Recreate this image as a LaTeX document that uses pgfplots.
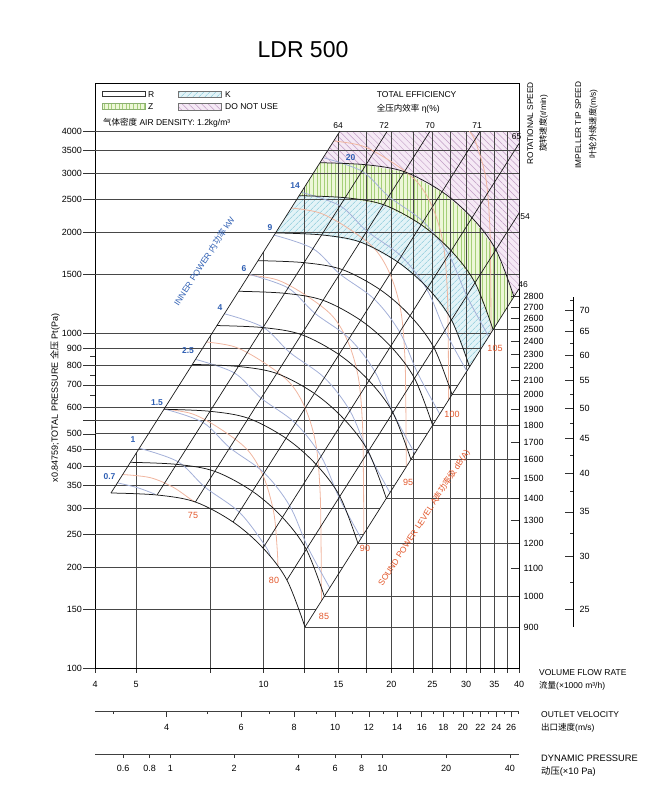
\documentclass[border=0pt]{standalone}
\usepackage{pgfplots}
\pgfplotsset{compat=1.18}
\usetikzlibrary{patterns.meta}
\usepackage{fontspec}
\setmainfont{Liberation Sans}
\newfontfamily\cjk{Noto Sans CJK SC}
\definecolor{Zbg}{HTML}{EDF7D8}
\definecolor{Zhatch}{HTML}{A5CF78}
\definecolor{Zborder}{HTML}{8BB070}
\definecolor{Kbg}{HTML}{E3F3F7}
\definecolor{Khatch}{HTML}{7FC4D6}
\definecolor{Pbg}{HTML}{F5E9F5}
\definecolor{Phatch}{HTML}{C09CC4}
\definecolor{pwrc}{HTML}{A3B0D8}
\definecolor{sndc}{HTML}{F0B59F}
\definecolor{pwrlab}{HTML}{2F5FB3}
\definecolor{sndlab}{HTML}{E2572B}
\pgfplotsset{
 spd/.style={black!90, line width=0.75pt, smooth, tension=0.55, mark=none},
 dia/.style={black!90, line width=0.7pt, mark=none},
 grd/.style={black!72, line width=0.7pt, mark=none},
 pwr/.style={pwrc, line width=0.8pt, smooth, tension=0.55, mark=none},
 snd/.style={sndc, line width=0.8pt, smooth, tension=0.55, mark=none},
}
\newcommand{\fs}[1]{\fontsize{#1}{#1}\selectfont}
\begin{document}
\begin{tikzpicture}
\path[use as bounding box] (0pt,0pt) rectangle (661pt,-800pt);
\begin{axis}[at={(95pt,-668pt)}, anchor=south west, scale only axis,
 width=424pt, height=585pt, xmode=log, ymode=log,
 xmin=4, xmax=40, ymin=100, ymax=5575,
 axis line style={black, line width=0.8pt},
 xtick={4,5,7.5,10,12.5,15,17.5,20,22.5,25,27.5,30,32.5,35,37.5,40},
 xticklabels={4,5,,10,,15,,20,,25,,30,,35,,40},
 ytick={100,150,200,250,300,350,400,450,500,550,600,700,800,900,1000,1500,2000,2500,3000,3500,4000},
 yticklabels={100,150,200,250,300,350,400,450,500,,600,700,800,900,1000,1500,2000,2500,3000,3500,4000},
 minor ytick={650,750,850},
 xtick pos=bottom, ytick pos=left, tick align=outside,
 major tick length=12pt, minor tick length=5pt,
 xtick style={/pgfplots/major tick length=5pt},
 tick style={black!80, line width=0.65pt},
 xticklabel style={font=\fs{9}, inner sep=1pt},
 yticklabel style={font=\fs{9}, inner sep=1pt},
]
% zone fills: K, Z, DO NOT USE
\addplot[fill=Kbg, draw=none] coordinates {(10.665,1989.8) (13.696,1962.3) (16.867,1870.3) (20.692,1630.1) (24.349,1363.0) (27.72,1094.1) (30.58,792.3) (34.75,1023.1) (31.50,1412.8) (27.669,1760.0) (23.514,2104.9) (19.167,2415.1) (15.564,2533.9) (12.119,2569.4)} -- cycle;
\addplot[draw=none, pattern={Lines[angle=45,distance=4pt,line width=0.5pt]}, pattern color=Khatch] coordinates {(10.665,1989.8) (13.696,1962.3) (16.867,1870.3) (20.692,1630.1) (24.349,1363.0) (27.72,1094.1) (30.58,792.3) (34.75,1023.1) (31.50,1412.8) (27.669,1760.0) (23.514,2104.9) (19.167,2415.1) (15.564,2533.9) (12.119,2569.4)} -- cycle;
\addplot[fill=Zbg, draw=none] coordinates {(12.119,2569.4) (15.564,2533.9) (19.167,2415.1) (23.514,2104.9) (27.669,1760.0) (31.50,1412.8) (34.75,1023.1) (38.92,1283.4) (35.28,1772.2) (30.990,2207.8) (26.336,2640.4) (21.467,3029.5) (17.432,3178.6) (13.574,3223.1)} -- cycle;
\addplot[draw=none, pattern={Lines[angle=90,distance=3.6pt,line width=0.55pt]}, pattern color=Zhatch] coordinates {(12.119,2569.4) (15.564,2533.9) (19.167,2415.1) (23.514,2104.9) (27.669,1760.0) (31.50,1412.8) (34.75,1023.1) (38.92,1283.4) (35.28,1772.2) (30.990,2207.8) (26.336,2640.4) (21.467,3029.5) (17.432,3178.6) (13.574,3223.1)} -- cycle;
\addplot[fill=Pbg, draw=none] coordinates {(13.574,3223.1) (17.432,3178.6) (21.467,3029.5) (26.336,2640.4) (30.990,2207.8) (35.28,1772.2) (38.92,1283.4) (40,1355.6) (40,4000) (15.12,4000)} -- cycle;
\addplot[draw=none, pattern={Lines[angle=-45,distance=4.6pt,line width=0.5pt]}, pattern color=Phatch] coordinates {(13.574,3223.1) (17.432,3178.6) (21.467,3029.5) (26.336,2640.4) (30.990,2207.8) (35.28,1772.2) (38.92,1283.4) (40,1355.6) (40,4000) (15.12,4000)} -- cycle;
% horizontal pressure grid lines
\addplot[grd] coordinates {(4,150) (13.306,150)};
\addplot[grd] coordinates {(4,200) (15.364,200)};
\addplot[grd] coordinates {(4,250) (17.177,250)};
\addplot[grd] coordinates {(4,300) (18.817,300)};
\addplot[grd] coordinates {(4,350) (20.325,350)};
\addplot[grd] coordinates {(4,400) (21.728,400)};
\addplot[grd] coordinates {(4,450) (23.046,450)};
\addplot[grd] coordinates {(4,500) (24.293,500)};
\addplot[grd] coordinates {(4,550) (25.478,550)};
\addplot[grd] coordinates {(4,600) (26.611,600)};
\addplot[grd] coordinates {(4,700) (28.743,700)};
\addplot[grd] coordinates {(4,800) (30.728,800)};
\addplot[grd] coordinates {(4,900) (32.592,900)};
\addplot[grd] coordinates {(4,1000) (34.355,1000)};
\addplot[grd] coordinates {(4,1500) (40,1500)};
\addplot[grd] coordinates {(4,2000) (40,2000)};
\addplot[grd] coordinates {(4,2500) (40,2500)};
\addplot[grd] coordinates {(4,3000) (40,3000)};
\addplot[grd] coordinates {(4,3500) (40,3500)};
\addplot[grd] coordinates {(4,4000) (40,4000)};
% vertical flow grid lines
\addplot[grd] coordinates {(5,100) (5,437.3)};
\addplot[grd] coordinates {(7.5,100) (7.5,984.0)};
\addplot[grd] coordinates {(10,100) (10,1749.3)};
\addplot[grd] coordinates {(12.5,100) (12.5,2733.3)};
\addplot[grd] coordinates {(15,100) (15,3935.9)};
\addplot[grd] coordinates {(17.5,100) (17.5,4000)};
\addplot[grd] coordinates {(20,100) (20,4000)};
\addplot[grd] coordinates {(22.5,100) (22.5,4000)};
\addplot[grd] coordinates {(25,100) (25,4000)};
\addplot[grd] coordinates {(27.5,100) (27.5,4000)};
\addplot[grd] coordinates {(30,100) (30,4000)};
\addplot[grd] coordinates {(32.5,100) (32.5,4000)};
\addplot[grd] coordinates {(35,100) (35,4000)};
\addplot[grd] coordinates {(37.5,100) (37.5,4000)};
% rotational speed lines to the right scale
\addplot[grd] coordinates {(12.51,132.6) (40,132.6)};
\addplot[grd] coordinates {(13.90,163.7) (40,163.7)};
\addplot[grd] coordinates {(16.68,235.7) (40,235.7)};
\addplot[grd] coordinates {(19.46,320.9) (40,320.9)};
\addplot[grd] coordinates {(22.24,419.1) (40,419.1)};
\addplot[grd] coordinates {(25.02,530.4) (40,530.4)};
\addplot[grd] coordinates {(27.80,654.8) (40,654.8)};
\addplot[grd] coordinates {(34.75,1023.1) (40,1023.1)};
\addplot[grd] coordinates {(38.92,1283.4) (40,1283.4)};
% sound power level curves dB(A)
\addplot[snd] coordinates {(4.65,378) (5.4,370) (6.1,347) (6.7,320) (6.9,313)};
\addplot[snd] coordinates {(5.822,593.1) (6.797,573.2) (7.912,516.8) (9.162,447.4) (9.995,371.7) (10.553,292.3) (10.75,230) (10.80,203)};
\addplot[snd] coordinates {(7.33,940) (8.557,908.5) (9.961,819.1) (11.534,709.1) (12.583,589.1) (13.285,463.2) (13.576,339.9) (13.650,241.0) (13.68,158.6)};
\addplot[snd] coordinates {(9.228,1489.8) (10.773,1439.9) (12.540,1298.2) (14.520,1123.8) (15.841,933.7) (16.725,734.1) (17.091,538.7) (17.184,382.0) (17.222,251.4)};
\addplot[snd] coordinates {(11.617,2361.2) (13.562,2282.1) (15.787,2057.5) (18.280,1781.1) (19.943,1479.8) (21.056,1163.5) (21.517,853.8) (21.634,605.4) (21.681,398.4)};
\addplot[snd] coordinates {(14.625,3742.3) (17.074,3616.9) (19.875,3260.9) (23.013,2822.8) (25.107,2345.3) (26.508,1844.0) (27.088,1353.2) (27.236,959.5) (27.295,631.4)};
\addplot[snd] coordinates {(30.54,4000) (31.608,3717.1) (33.371,2922.5) (34.102,2144.7) (34.288,1520.7) (34.362,1000.7)};
% inner power curves kW
\addplot[pwr] coordinates {(4.518,357.1) (5.05,345) (5.55,330)};
\addplot[pwr] coordinates {(5.088,452.9) (6.281,412.6) (7.264,346.9) (8.756,291.9) (10.059,232.6) (10.37,215)};
\addplot[pwr] coordinates {(5.824,593.4) (7.189,540.7) (8.315,454.6) (10.023,382.5) (11.515,304.8) (12.700,229.6) (14.311,173.5)};
\addplot[pwr] coordinates {(6.905,834.1) (8.524,760.1) (9.859,639.0) (11.884,537.7) (13.653,428.5) (15.057,322.8) (16.969,244.0)};
\addplot[pwr] coordinates {(8.077,1141.2) (9.970,1039.8) (11.531,874.1) (13.900,735.5) (15.968,586.2) (17.611,441.6) (19.847,333.8)};
\addplot[pwr] coordinates {(9.246,1495.4) (11.413,1362.5) (13.199,1145.3) (15.911,963.8) (18.278,768.1) (20.159,578.6) (22.719,437.3)};
\addplot[pwr] coordinates {(10.584,1959.5) (13.065,1785.5) (15.110,1500.9) (18.214,1263.0) (20.924,1006.5) (23.077,758.3) (26.007,573.1)};
\addplot[pwr] coordinates {(12.263,2630.5) (15.137,2396.9) (17.507,2014.9) (21.103,1695.5) (24.244,1351.2) (26.737,1017.9) (30.133,769.3)};
\addplot[pwr] coordinates {(13.811,3336.8) (17.048,3040.3) (19.717,2555.7) (23.768,2150.7) (27.305,1714.0) (30.113,1291.2) (33.938,975.9)};
% efficiency lines (P ~ Q^2)
\addplot[dia] coordinates {(4.363,333.0) (15.12,4000)};
\addplot[dia] coordinates {(5.603,328.4) (19.555,4000)};
\addplot[dia] coordinates {(6.90,313.0) (24.666,4000)};
\addplot[dia] coordinates {(8.465,272.8) (32.414,4000)};
\addplot[dia] coordinates {(9.961,228.1) (40,3678.2)};
\addplot[dia] coordinates {(11.34,183.1) (40,2278.1)};
\addplot[dia] coordinates {(12.51,132.6) (40,1355.6)};
% fan curves at constant speed (r/min)
\addplot[spd] coordinates {(4.363,333.0) (5.603,328.4) (6.90,313.0) (8.465,272.8) (9.961,228.1) (11.34,183.1) (12.51,132.6)};
\addplot[spd] coordinates {(4.848,411.1) (6.226,405.4) (7.667,386.4) (9.406,336.8) (11.068,281.6) (12.60,226.0) (13.90,163.7)};
\addplot[spd] coordinates {(5.817,592.0) (7.471,583.8) (9.200,556.4) (11.287,485.0) (13.281,405.5) (15.12,325.5) (16.68,235.7)};
\addplot[spd] coordinates {(6.787,805.8) (8.716,794.6) (10.733,757.4) (13.168,660.1) (15.495,551.9) (17.640,443.1) (19.460,320.9)};
\addplot[spd] coordinates {(7.756,1052.4) (9.961,1037.9) (12.267,989.2) (15.049,862.2) (17.708,720.9) (20.16,578.7) (22.24,419.1)};
\addplot[spd] coordinates {(8.726,1332.0) (11.206,1313.6) (13.80,1252.0) (16.93,1091.2) (19.922,912.4) (22.68,732.4) (25.02,530.4)};
\addplot[spd] coordinates {(9.696,1644.4) (12.451,1621.7) (15.333,1545.7) (18.811,1347.2) (22.136,1126.4) (25.20,904.2) (27.80,654.8)};
\addplot[spd] coordinates {(10.665,1989.8) (13.696,1962.3) (16.867,1870.3) (20.692,1630.1) (24.349,1363.0) (27.72,1094.1) (30.58,792.3)};
\addplot[spd] coordinates {(12.119,2569.4) (15.564,2533.9) (19.167,2415.1) (23.514,2104.9) (27.669,1760.0) (31.50,1412.8) (34.75,1023.1)};
\addplot[spd] coordinates {(13.574,3223.1) (17.432,3178.6) (21.467,3029.5) (26.336,2640.4) (30.990,2207.8) (35.28,1772.2) (38.92,1283.4)};
\end{axis}
% rotational speed scale
\begin{axis}[at={(519pt,-627pt)}, anchor=south east, scale only axis,
 width=20pt, height=330.3pt, ymode=log, ymin=900, ymax=2800, xmin=0, xmax=1,
 hide x axis, axis y line=right, axis line style={-, black, line width=0.8pt},
 tick align=inside, major tick length=8pt, tick style={black!80, line width=0.65pt},
 ytick={900,1000,1100,1200,1300,1400,1500,1600,1700,1800,1900,2000,2100,2200,2300,2400,2500,2600,2700,2800},
 yticklabels={900,1000,1100,1200,1300,1400,1500,1600,1700,1800,1900,2000,2100,2200,2300,2400,2500,2600,2700,2800},
 yticklabel style={font=\fs{9}, inner sep=0.5pt, xshift=4pt}]
\addplot[draw=none] coordinates {(0.5,1000)};
\end{axis}
% impeller tip speed scale
\begin{axis}[at={(573pt,-627pt)}, anchor=south east, scale only axis,
 width=20pt, height=330.3pt, ymode=log, ymin=23.562, ymax=73.304, xmin=0, xmax=1,
 hide x axis, axis y line=right, axis line style={-, black, line width=0.7pt},
 tick align=inside, major tick length=7.7pt, minor tick length=3.5pt, tick style={black!80, line width=0.6pt},
 ytick={25,30,35,40,45,50,55,60,65,70},
 yticklabels={25,30,35,40,45,50,55,60,65,70},
 minor ytick={27.5,32.5,37.5,42.5,47.5,52.5,57.5,62.5,67.5,72.5},
 yticklabel style={font=\fs{9}, inner sep=0.5pt, xshift=6pt}]
\addplot[draw=none] coordinates {(0.5,30)};
\end{axis}
% outlet velocity scale
\begin{axis}[at={(95pt,-711pt)}, anchor=south west, scale only axis,
 width=424pt, height=10pt, xmode=log, xmin=2.713, xmax=27.13, ymin=0, ymax=1,
 hide y axis, axis x line=bottom, axis line style={-, black!75, line width=0.7pt},
 tick align=outside, major tick length=6pt, minor tick length=3pt, tick style={black!80, line width=0.6pt},
 xtick={4,6,8,10,12,14,16,18,20,22,24,26},
 xticklabels={4,6,8,10,12,14,16,18,20,22,24,26},
 minor xtick={3,5,7,9,11,13,15,17,19,21,23,25,27},
 xticklabel style={font=\fs{9}, inner sep=1pt, yshift=-6.5pt}]
\addplot[draw=none] coordinates {(5,0.5)};
\end{axis}
% dynamic pressure scale
\begin{axis}[at={(95pt,-754pt)}, anchor=south west, scale only axis,
 width=424pt, height=10pt, xmode=log, xmin=0.4416, xmax=44.16, ymin=0, ymax=1,
 hide y axis, axis x line=bottom, axis line style={-, black!75, line width=0.7pt},
 tick align=outside, major tick length=4pt, tick style={black!80, line width=0.6pt},
 xtick={0.6,0.8,1,2,4,6,8,10,20,40},
 xticklabels={0.6,0.8,1,2,4,6,8,10,20,40},
 xticklabel style={font=\fs{9}, inner sep=1pt, yshift=-6.5pt}]
\addplot[draw=none] coordinates {(5,0.5)};
\end{axis}
% title
\node[font=\fs{23}] at (303pt,-50pt) {LDR 500};
% legend swatches
\draw[black!80, line width=0.5pt, fill=white] (102.7pt,-91.7pt) rectangle (145pt,-96.7pt);
\fill[Zbg] (102.7pt,-103.3pt) rectangle (145pt,-109.3pt);
\fill[pattern={Lines[angle=90,distance=3.6pt,line width=0.55pt]}, pattern color=Zhatch] (102.7pt,-103.3pt) rectangle (145pt,-109.3pt);
\draw[Zborder, line width=0.5pt] (102.7pt,-103.3pt) rectangle (145pt,-109.3pt);
\fill[Kbg] (178pt,-91.7pt) rectangle (221.7pt,-97.3pt);
\fill[pattern={Lines[angle=45,distance=4pt,line width=0.5pt]}, pattern color=Khatch] (178pt,-91.7pt) rectangle (221.7pt,-97.3pt);
\draw[black!55, line width=0.5pt] (178pt,-91.7pt) rectangle (221.7pt,-97.3pt);
\fill[Pbg] (178pt,-103.3pt) rectangle (221.7pt,-110pt);
\fill[pattern={Lines[angle=-45,distance=4.6pt,line width=0.5pt]}, pattern color=Phatch] (178pt,-103.3pt) rectangle (221.7pt,-110pt);
\draw[black!55, line width=0.5pt] (178pt,-103.3pt) rectangle (221.7pt,-110pt);
\node[anchor=west, font=\fs{8.5}, inner sep=0pt] at (148pt,-94.5pt) {R};
\node[anchor=west, font=\fs{8.5}, inner sep=0pt] at (148pt,-106.5pt) {Z};
\node[anchor=west, font=\fs{8.5}, inner sep=0pt] at (225pt,-94.5pt) {K};
\node[anchor=west, font=\fs{8.5}, inner sep=0pt] at (225pt,-107pt) {DO NOT USE};
\node[anchor=west, font=\fs{8.5}, inner sep=0pt] at (103pt,-122.7pt) {{\cjk 气体密度} AIR DENSITY: 1.2kg/m³};
\node[anchor=west, font=\fs{8.5}, inner sep=0pt] at (376.7pt,-95pt) {TOTAL EFFICIENCY};
\node[anchor=west, font=\fs{8.5}, inner sep=0pt] at (376.7pt,-108.3pt) {{\cjk 全压内效率} η(\%)};
% efficiency labels
\node[font=\fs{8.5}, inner sep=0.5pt] at (338pt,-125.7pt) {64};
\node[font=\fs{8.5}, inner sep=0.5pt] at (384pt,-125.7pt) {72};
\node[font=\fs{8.5}, inner sep=0.5pt] at (430pt,-125.7pt) {70};
\node[font=\fs{8.5}, inner sep=0.5pt] at (477pt,-125.7pt) {71};
\node[font=\fs{8.5}, inner sep=0.5pt] at (516.5pt,-136.7pt) {65};
\node[font=\fs{8.5}, inner sep=0.5pt] at (525pt,-216.7pt) {54};
\node[font=\fs{8.5}, inner sep=0.5pt] at (523pt,-285pt) {46};
% right axis titles
\node[rotate=90, font=\fs{8.3}, inner sep=0.5pt] at (530.3pt,-123.3pt) {ROTATIONAL SPEED};
\node[rotate=90, font=\fs{8.3}, inner sep=0.5pt] at (543.5pt,-123.3pt) {{\cjk 旋转速度}(r/min)};
\node[rotate=90, font=\fs{8.3}, inner sep=0.5pt] at (578.3pt,-125pt) {IMPELLER TIP SPEED};
\node[rotate=90, font=\fs{8.3}, inner sep=0.5pt] at (593.3pt,-124pt) {{\cjk 叶轮外缘速度}(m/s)};
% left axis title
\node[rotate=90, font=\fs{9}] at (55pt,-398pt) {x0.84759;TOTAL PRESSURE {\cjk 全压} Pt(Pa)};
% bottom scale titles
\node[anchor=west, font=\fs{8.5}, inner sep=0pt] at (539pt,-673pt) {VOLUME FLOW RATE};
\node[anchor=west, font=\fs{8.5}, inner sep=0pt] at (539pt,-686pt) {{\cjk 流量}(×1000 m³/h)};
\node[anchor=west, font=\fs{8.5}, inner sep=0pt] at (541pt,-715pt) {OUTLET VELOCITY};
\node[anchor=west, font=\fs{8.5}, inner sep=0pt] at (541pt,-728pt) {{\cjk 出口速度}(m/s)};
\node[anchor=west, font=\fs{9.3}, inner sep=0pt] at (541pt,-758pt) {DYNAMIC PRESSURE};
\node[anchor=west, font=\fs{9.3}, inner sep=0pt] at (541pt,-772pt) {{\cjk 动压}(×10 Pa)};
% power labels
\node[font=\bfseries\fs{8.5}, text=pwrlab, inner sep=0.5pt] at (109.5pt,-477pt) {0.7};
\node[font=\bfseries\fs{8.5}, text=pwrlab, inner sep=0.5pt] at (133pt,-440pt) {1};
\node[font=\bfseries\fs{8.5}, text=pwrlab, inner sep=0.5pt] at (157pt,-403pt) {1.5};
\node[font=\bfseries\fs{8.5}, text=pwrlab, inner sep=0.5pt] at (188pt,-351pt) {2.5};
\node[font=\bfseries\fs{8.5}, text=pwrlab, inner sep=0.5pt] at (220pt,-308pt) {4};
\node[font=\bfseries\fs{8.5}, text=pwrlab, inner sep=0.5pt] at (244pt,-269pt) {6};
\node[font=\bfseries\fs{8.5}, text=pwrlab, inner sep=0.5pt] at (270pt,-228pt) {9};
\node[font=\bfseries\fs{8.5}, text=pwrlab, inner sep=0.5pt] at (295pt,-186pt) {14};
\node[font=\bfseries\fs{8.5}, text=pwrlab, inner sep=0.5pt] at (350.5pt,-158pt) {20};
\node[rotate=57, font=\fs{8.5}, text=pwrlab, inner sep=0.5pt] at (204pt,-261pt) {INNER POWER {\cjk 内功率} kW};
% sound labels
\node[font=\fs{9}, text=sndlab, inner sep=0.5pt] at (193pt,-515pt) {75};
\node[font=\fs{9}, text=sndlab, inner sep=0.5pt] at (274pt,-580pt) {80};
\node[font=\fs{9}, text=sndlab, inner sep=0.5pt] at (324pt,-616pt) {85};
\node[font=\fs{9}, text=sndlab, inner sep=0.5pt] at (365pt,-548pt) {90};
\node[font=\fs{9}, text=sndlab, inner sep=0.5pt] at (408pt,-482pt) {95};
\node[font=\fs{9}, text=sndlab, inner sep=0.5pt] at (452pt,-414pt) {100};
\node[font=\fs{9}, text=sndlab, inner sep=0.5pt] at (495pt,-348pt) {105};
\node[rotate=57, font=\fs{8.5}, text=sndlab, inner sep=0.5pt] at (424pt,-518pt) {SOUND POWER LEVEL A{\cjk 声功率级} dB(A)};
\end{tikzpicture}
\end{document}
